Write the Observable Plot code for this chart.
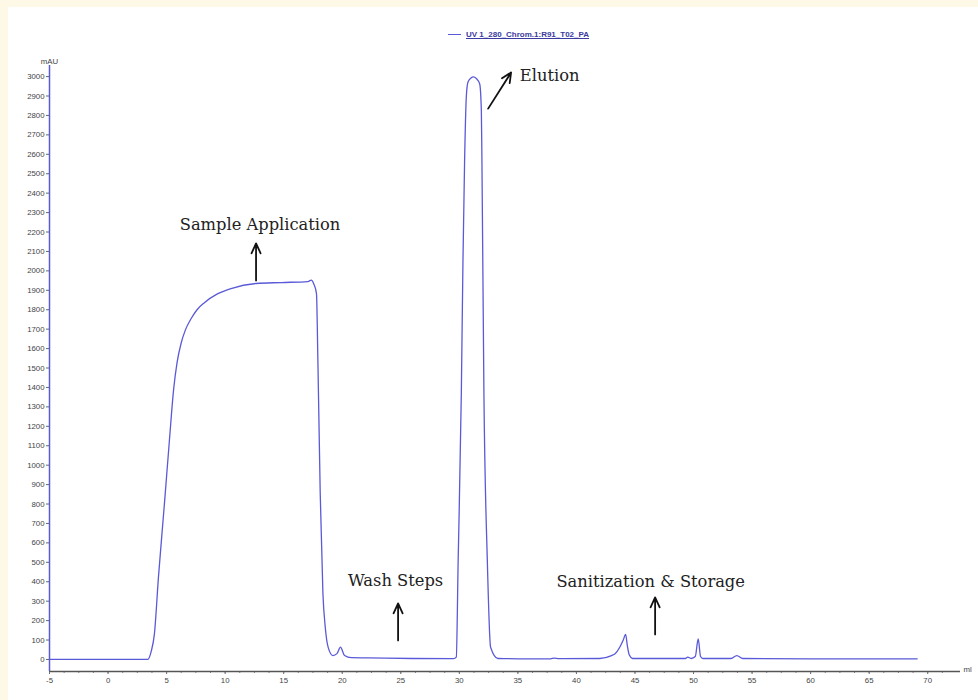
<!DOCTYPE html>
<html>
<head>
<meta charset="utf-8">
<script src="https://cdn.jsdelivr.net/npm/d3@7"></script>
<script src="https://cdn.jsdelivr.net/npm/@observablehq/plot@0.6"></script>
<style>
  html, body { margin: 0; padding: 0; background: #fdf9e6; }
  #panel { position: absolute; left: 8px; top: 7px; width: 970px; height: 693px; background: #ffffff; overflow: hidden; }
  #legend { position: absolute; left: 440px; top: 20px; height: 14px; display: flex; align-items: center; font-family: "Liberation Sans", Arial, sans-serif; font-size: 8px; color: #3a3aa0; }
  #legend .sw { display: inline-block; width: 13px; height: 0; border-top: 1.3px solid #5a5ad8; margin-right: 5px; }
  #legend .tx { text-decoration: underline; font-weight: 600; }
  #chart { position: absolute; left: 0; top: 40px; }
</style>
</head>
<body>
<div id="panel">
  <div id="legend"><span class="sw"></span><span class="tx" id="legendText"></span></div>
  <div id="chart"></div>
</div>
<script>
// ---- data ----
const seriesName = "UV 1_280_Chrom.1:R91_T02_PA";
const ml = [
  -5, 3.4, 3.68, 3.96, 4.3, 4.81, 5.24, 5.6, 5.9, 6.25, 6.6, 7.1, 7.6, 8.2, 9.3, 10.5, 12.65, 14.8, 17.07, 17.35, 17.57, 17.8,
  17.92, 18.12, 18.35, 18.55, 18.8, 19.2, 19.55, 19.85, 20.2, 20.77, 22.2, 26.0, 29.5,
  29.74, 29.9, 30.17, 30.31, 30.45, 30.6, 30.74, 31.0, 31.2, 31.45, 31.74, 31.88, 31.93, 32.1, 32.39, 32.67, 33.3,
  36.0, 37.8, 38.1, 38.5, 42.0, 43.0, 43.3, 43.7, 44.0, 44.2, 44.35, 44.5, 44.8,
  49.3, 49.5, 49.8, 50.15, 50.4, 50.6, 50.8, 53.2, 53.7, 54.2, 60.0, 69.1
];
const mAU = [
  0, 0, 40, 132, 420, 798, 1127, 1390, 1530, 1630, 1695, 1755, 1800, 1835, 1880, 1909, 1935, 1940, 1945, 1952, 1933, 1883,
  1539, 854, 340, 166, 62, 20, 30, 63, 20, 9, 8, 5, 4,
  12, 510, 1369, 2053, 2568, 2900, 2972, 2993, 2998, 2990, 2962, 2825, 2568, 1367, 510, 63, 5,
  3, 3, 7, 4, 5, 20, 29, 63, 100, 129, 70, 25, 5,
  5, 12, 5, 15, 106, 15, 5, 5, 20, 5, 3, 3
];
const xTicks = d3.range(-5, 71, 5);
const xMinorTicks = d3.range(-5, 72.5, 1.25);
const yTicks = d3.range(0, 3001, 100);

const annLabels = ["Sample Application", "Elution", "Wash Steps", "Sanitization & Storage"];
const annX = [12.98, 37.71, 24.56, 46.34];
const annY = [2238, 3005, 406, 401];
const arrowX1 = [12.64, 32.46, 24.77, 46.72];
const arrowY1 = [1950, 2835, 98, 129];
const arrowX2 = [12.64, 34.42, 24.77, 46.72];
const arrowY2 = [2141, 3021, 288, 319];

// ---- build tables ----
const trace = ml.map((x, i) => ({x, y: mAU[i]}));
const notes = annLabels.map((t, i) => ({t, x: annX[i], y: annY[i]}));
const arrows = arrowX1.map((x1, i) => ({x1, y1: arrowY1[i], x2: arrowX2[i], y2: arrowY2[i]}));

document.getElementById("legendText").textContent = seriesName;

const traceColor = "#5a5ad8";
const axisFont = "Liberation Sans, Arial, sans-serif";
const plain = (d) => String(d);

const plot = Plot.plot({
  width: 970,
  height: 653,
  marginLeft: 41,
  marginRight: 18,
  marginTop: 18,
  marginBottom: 29,
  style: {background: "transparent", fontFamily: axisFont, fontSize: "7.8px", color: "#444"},
  x: {domain: [-5, 72.8]},
  y: {domain: [-62, 3057]},
  marks: [
    Plot.axisY({ticks: yTicks, tickFormat: plain, tickSize: 3, tickPadding: 2, label: null, stroke: "#666", fill: "#444"}),
    Plot.axisX({ticks: xTicks, tickFormat: plain, tickSize: 3, tickPadding: 3, label: null, stroke: "#666", fill: "#444"}),
    Plot.axisX({ticks: xMinorTicks, tickSize: 2, text: null, label: null, stroke: "#888"}),
    Plot.ruleY([-62], {stroke: "#555", strokeWidth: 1.5}),
    Plot.ruleX([-5], {stroke: traceColor, strokeWidth: 1.5}),
    Plot.text(["mAU"], {frameAnchor: "top-left", dy: -7, textAnchor: "middle", fill: "#444", fontSize: 7.8}),
    Plot.text(["ml"], {frameAnchor: "bottom-right", dx: 3, textAnchor: "start", fill: "#444", fontSize: 7.8}),
    Plot.line(trace, {x: "x", y: "y", stroke: traceColor, strokeWidth: 1.3, curve: "monotone-x"}),
    Plot.arrow(arrows, {x1: "x1", y1: "y1", x2: "x2", y2: "y2", stroke: "#111", strokeWidth: 1.8, headLength: 9, headAngle: 50}),
    Plot.text(notes, {x: "x", y: "y", text: "t", fontFamily: "DejaVu Serif, serif", fontSize: 16.3, fill: "#222", textAnchor: "middle"})
  ]
});
document.getElementById("chart").appendChild(plot);
</script>
</body>
</html>
